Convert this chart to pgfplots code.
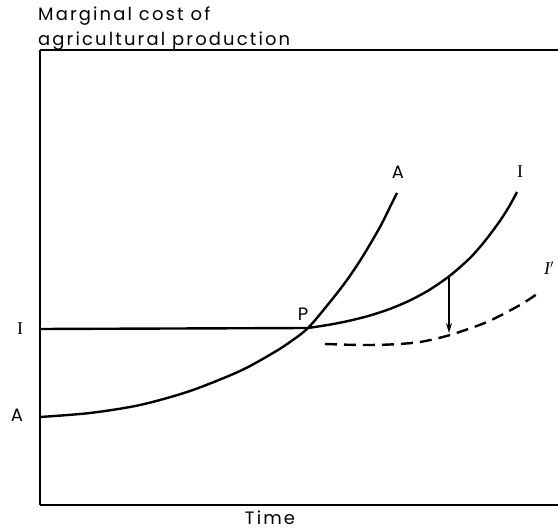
\documentclass[border=0pt]{standalone}
\usepackage{pgfplots}
\pgfplotsset{compat=1.18}
\usepackage{fontspec}
\setmainfont{Poppins}
\newfontfamily\lab[LetterSpace=12]{Poppins}
\newfontfamily\serifI{Liberation Serif}
\usetikzlibrary{arrows.meta}

\begin{document}
\begin{tikzpicture}[x=1bp,y=1bp]
\begin{axis}[
    at={(0,0)}, anchor=south west,
    scale only axis,
    width=518bp, height=455bp,
    xmin=0, xmax=518, ymin=0, ymax=455,
    axis x line*=box, axis y line*=left,
    axis line style={line width=2.8bp},
    xtick=\empty, ytick=\empty,
    clip=false,
]
% curve A
\addplot[black, line width=2.4bp, smooth] coordinates {
 (0,88) (50,92) (100,100) (150,114) (200,134) (233,152) (250,163)
 (268,177) (290,203) (307,225) (323,249) (340,278) (350,298) (357,312)};
% line I (flat part, then rising curve)
\addplot[black, line width=2.4bp] coordinates {(0,176) (268,177)};
\addplot[black, line width=2.4bp, smooth] coordinates {
 (268,177) (290,180.4) (310,184.4) (330,189.5) (350,196.1) (370,204.6)
 (390,215.5) (410,229.4) (430,247) (445,264.1) (460,284.2) (470,300) (477,313)};
% shifted curve I'
\addplot[black, line width=2.4bp, dash pattern=on 12bp off 7bp, smooth] coordinates {
 (285,161) (320,160) (350,160.5) (380,163) (410,170) (447,183) (480,200) (500,213)};
% downward shift arrow
\addplot[black, line width=1.4bp, -{Stealth[length=10bp,width=6bp]}] coordinates {(409,228) (409,172)};

\node[font=\fontsize{18}{20}\lab] at (axis cs:358,333) {A};
\node[font=\fontsize{18}{20}\serifI] at (axis cs:480,333) {I};
\node[font=\fontsize{18}{20}\serifI\itshape] at (axis cs:509,237) {I$'$};
\node[font=\fontsize{18}{20}\lab] at (axis cs:263,191) {P};
\node[font=\fontsize{18}{20}\serifI] at (axis cs:-20,176) {I};
\node[font=\fontsize{18}{20}\lab] at (axis cs:-23,90) {A};
\node[font=\fontsize{18}{20}\lab, anchor=west, inner sep=0pt] at (axis cs:-2,489) {Marginal cost of};
\node[font=\fontsize{18}{20}\lab, anchor=west, inner sep=0pt] at (axis cs:-2,464) {agricultural production};
\node[font=\fontsize{18}{20}\lab, inner sep=0pt] at (axis cs:230,-13) {Time};
\end{axis}
\pgfresetboundingbox
\path (-40bp,-26bp) rectangle (518bp,505bp);
\end{tikzpicture}
\end{document}
